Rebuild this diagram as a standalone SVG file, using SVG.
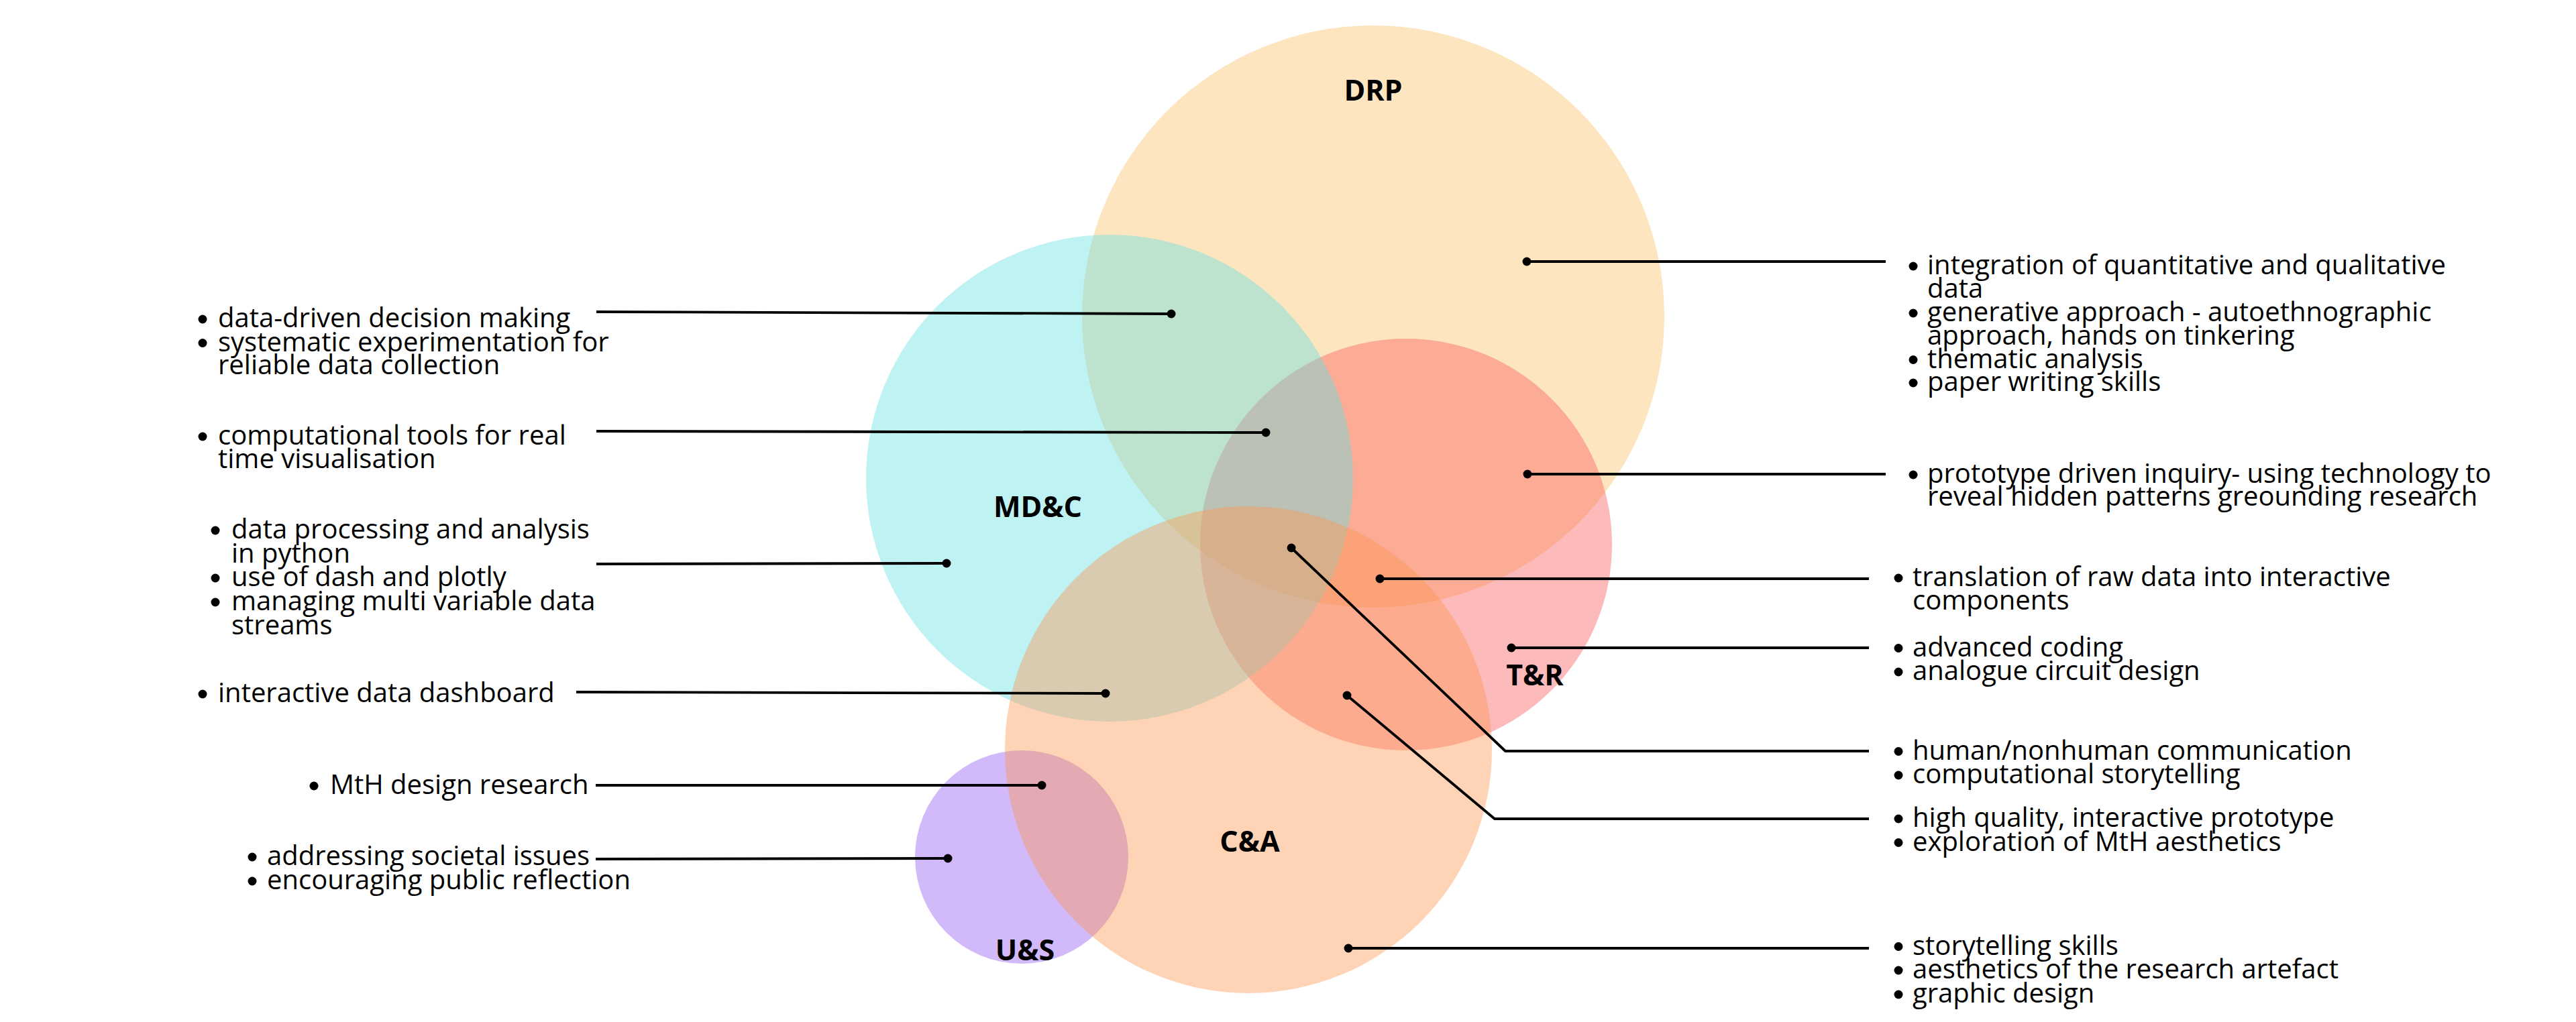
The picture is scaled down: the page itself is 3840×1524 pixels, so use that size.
<svg xmlns="http://www.w3.org/2000/svg" width="3840" height="1524" viewBox="0 0 3840 1524">
<style>
.t{font-family:"Open Sans","Liberation Sans",sans-serif;font-size:40px;fill:#000}
.lb{font-family:"Open Sans","Liberation Sans",sans-serif;font-size:43px;font-weight:bold;fill:#000;text-anchor:middle}
.c{opacity:0.42}
.ln{fill:none;stroke:#000;stroke-width:3.8;stroke-linejoin:miter}
.d{fill:#000}
.b{fill:#000}
</style>
<rect width="3840" height="1524" fill="#fff"/>
<g id="circles">
<g id="DRP"><circle class="c" cx="2047" cy="472" r="434" fill="#FAC167"/></g>
<g id="TR"><circle cx="2096" cy="812" r="307" fill="#FA5F5F" opacity="0.43"/></g>
<g id="MDC"><circle class="c" cx="1654" cy="713" r="363" fill="#64E0E2"/></g>
<g id="US"><circle class="c" cx="1523" cy="1278" r="159" fill="#9158F3"/></g>
<g id="CA"><circle class="c" cx="1861" cy="1118" r="363" fill="#FD9651"/></g>
</g>
<g id="circle-labels">
<text class="lb" x="2047" y="150">DRP</text>
<text class="lb" x="1547" y="771">MD&amp;C</text>
<text class="lb" x="2288" y="1022">T&amp;R</text>
<text class="lb" x="1863" y="1270">C&amp;A</text>
<text class="lb" x="1528" y="1432">U&amp;S</text>
</g>
<g id="connectors">
<polyline class="ln" points="889,465 1746,468"/>
<polyline class="ln" points="889,643 1887,645"/>
<polyline class="ln" points="889,841 1411,840"/>
<polyline class="ln" points="859,1032 1648,1034"/>
<polyline class="ln" points="888,1171 1553,1171"/>
<polyline class="ln" points="888,1281 1413,1280"/>
<polyline class="ln" points="2276,390 2811,390"/>
<polyline class="ln" points="2277,707 2811,707"/>
<polyline class="ln" points="2057,863 2786,863"/>
<polyline class="ln" points="2253,966 2786,966"/>
<polyline class="ln" points="1925,817 2244,1120 2786,1120"/>
<polyline class="ln" points="2008,1037 2228,1221 2786,1221"/>
<polyline class="ln" points="2010,1414 2786,1414"/>
<circle class="d" cx="1746" cy="468" r="6.5"/>
<circle class="d" cx="1887" cy="645" r="6.5"/>
<circle class="d" cx="1411" cy="840" r="6.5"/>
<circle class="d" cx="1648" cy="1034" r="6.5"/>
<circle class="d" cx="1553" cy="1171" r="6.5"/>
<circle class="d" cx="1413" cy="1280" r="6.5"/>
<circle class="d" cx="2276" cy="390" r="6.5"/>
<circle class="d" cx="2277" cy="707" r="6.5"/>
<circle class="d" cx="2057" cy="863" r="6.5"/>
<circle class="d" cx="2253" cy="966" r="6.5"/>
<circle class="d" cx="1925" cy="817" r="6.5"/>
<circle class="d" cx="2008" cy="1037" r="6.5"/>
<circle class="d" cx="2010" cy="1414" r="6.5"/>
</g>
<g id="L1">
<circle class="b" cx="302" cy="476" r="6.5"/><circle class="b" cx="302" cy="511.5" r="6.5"/>
<text class="t"><tspan x="325" y="488">data-driven decision making</tspan><tspan x="325" y="523.5">systematic experimentation for</tspan><tspan x="325" y="558">reliable data collection</tspan></text>
</g>
<g id="L2">
<circle class="b" cx="302" cy="651" r="6.5"/>
<text class="t"><tspan x="325" y="663">computational tools for real</tspan><tspan x="325" y="698">time visualisation</tspan></text>
</g>
<g id="L3">
<circle class="b" cx="321" cy="791" r="6.5"/><circle class="b" cx="321" cy="862" r="6.5"/><circle class="b" cx="321" cy="898" r="6.5"/>
<text class="t"><tspan x="345" y="803">data processing and analysis</tspan><tspan x="345" y="838.5">in python</tspan><tspan x="345" y="874">use of dash and plotly</tspan><tspan x="345" y="910">managing multi variable data</tspan><tspan x="345" y="945.5">streams</tspan></text>
</g>
<g id="L4">
<circle class="b" cx="302" cy="1035" r="6.5"/>
<text class="t" x="325" y="1047">interactive data dashboard</text>
</g>
<g id="L5">
<circle class="b" cx="468" cy="1172" r="6.5"/>
<text class="t" x="492" y="1184">MtH design research</text>
</g>
<g id="L6">
<circle class="b" cx="376" cy="1278" r="6.5"/><circle class="b" cx="376" cy="1314" r="6.5"/>
<text class="t"><tspan x="398" y="1290">addressing societal issues</tspan><tspan x="398" y="1326">encouraging public reflection</tspan></text>
</g>
<g id="R1">
<circle class="b" cx="2852" cy="397" r="6.5"/><circle class="b" cx="2852" cy="467" r="6.5"/><circle class="b" cx="2852" cy="536.5" r="6.5"/><circle class="b" cx="2852" cy="571" r="6.5"/>
<text class="t"><tspan x="2873" y="409">integration of quantitative and qualitative</tspan><tspan x="2873" y="444">data</tspan><tspan x="2873" y="479">generative approach - autoethnographic</tspan><tspan x="2873" y="514">approach, hands on tinkering</tspan><tspan x="2873" y="548.5">thematic analysis</tspan><tspan x="2873" y="583">paper writing skills</tspan></text>
</g>
<g id="R2">
<circle class="b" cx="2852" cy="708" r="6.5"/>
<text class="t"><tspan x="2873" y="720">prototype driven inquiry- using technology to</tspan><tspan x="2873" y="754">reveal hidden patterns greounding research</tspan></text>
</g>
<g id="R3">
<circle class="b" cx="2830" cy="862" r="6.5"/>
<text class="t"><tspan x="2851" y="874">translation of raw data into interactive</tspan><tspan x="2851" y="909">components</tspan></text>
</g>
<g id="R4">
<circle class="b" cx="2830" cy="966.5" r="6.5"/><circle class="b" cx="2830" cy="1002" r="6.5"/>
<text class="t"><tspan x="2851" y="978.5">advanced coding</tspan><tspan x="2851" y="1014">analogue circuit design</tspan></text>
</g>
<g id="R5">
<circle class="b" cx="2830" cy="1120.5" r="6.5"/><circle class="b" cx="2830" cy="1156" r="6.5"/>
<text class="t"><tspan x="2851" y="1132.5">human/nonhuman communication</tspan><tspan x="2851" y="1168">computational storytelling</tspan></text>
</g>
<g id="R6">
<circle class="b" cx="2830" cy="1221" r="6.5"/><circle class="b" cx="2830" cy="1256.5" r="6.5"/>
<text class="t"><tspan x="2851" y="1233">high quality, interactive prototype</tspan><tspan x="2851" y="1268.5">exploration of MtH aesthetics</tspan></text>
</g>
<g id="R7">
<circle class="b" cx="2830" cy="1411.5" r="6.5"/><circle class="b" cx="2830" cy="1447" r="6.5"/><circle class="b" cx="2830" cy="1483" r="6.5"/>
<text class="t"><tspan x="2851" y="1423.5">storytelling skills</tspan><tspan x="2851" y="1459">aesthetics of the research artefact</tspan><tspan x="2851" y="1495">graphic design</tspan></text>
</g>
</svg>
